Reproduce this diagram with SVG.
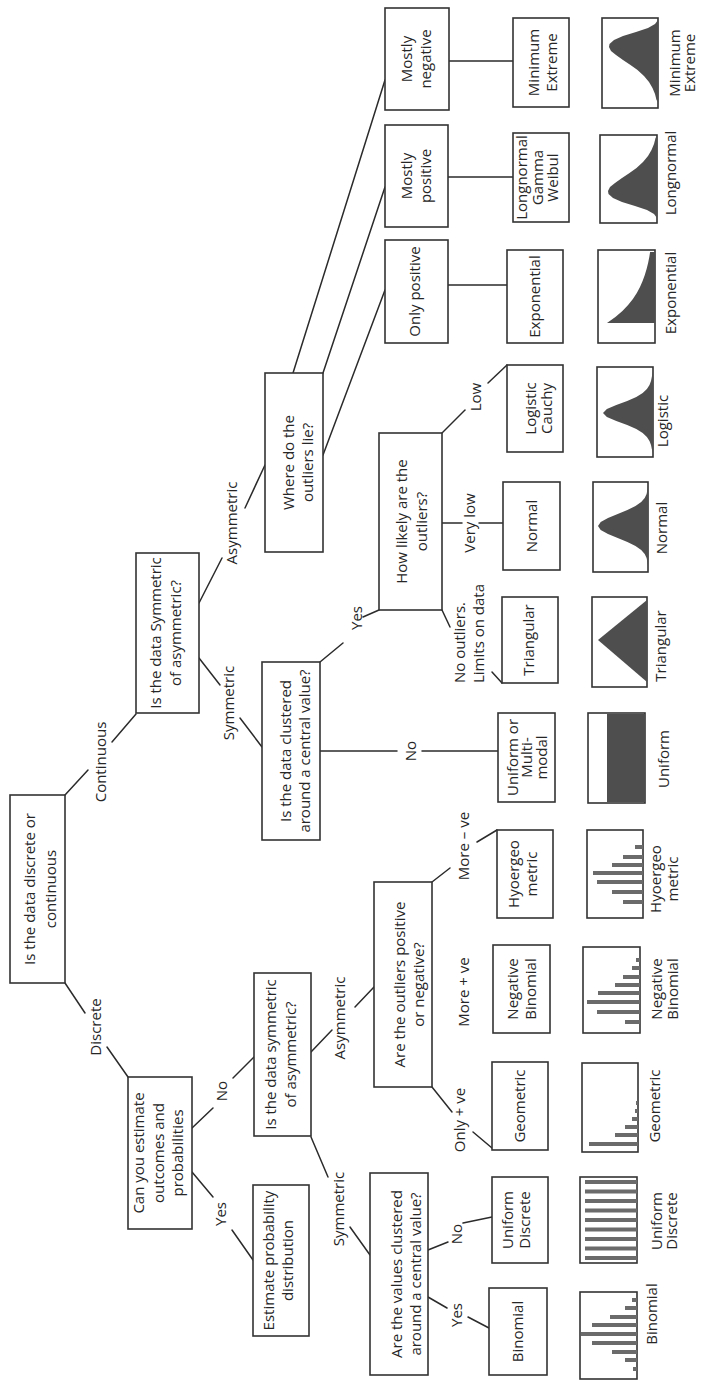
<svg xmlns="http://www.w3.org/2000/svg" width="701" height="1381" viewBox="0 0 701 1381">
  <style>
    .box{fill:#fff;stroke:#333;stroke-width:1.6}
    .frame{fill:#fff;stroke:#333;stroke-width:1.6}
    .edge{stroke:#2b2b2b;stroke-width:1.5;fill:none;stroke-linecap:round}
    .t{font-family:"Open Sans","DejaVu Sans",sans-serif;font-size:15px;fill:#262626;text-anchor:middle}
    .ts{text-anchor:start}
    .bar{fill:#6b6b6b}
    .fill{fill:#4e4e4e}
  </style>
  <rect width="701" height="1381" fill="#fff"/>
  <!-- The tree is laid out top-down, then turned a quarter-turn so it reads bottom-to-top -->
  <g transform="translate(0,1381) rotate(-90)">
    <g id="connectors">
      <line class="edge" x1="398" y1="65" x2="368" y2="85"/>
      <line class="edge" x1="334" y1="107" x2="304" y2="128"/>
      <line class="edge" x1="586" y1="65" x2="611" y2="88"/>
      <line class="edge" x1="639" y1="112" x2="667" y2="136"/>
      <line class="edge" x1="209" y1="192" x2="184" y2="213"/>
      <line class="edge" x1="151" y1="232" x2="121" y2="253"/>
      <line class="edge" x1="253" y1="192" x2="273" y2="213"/>
      <line class="edge" x1="303" y1="233" x2="324" y2="254"/>
      <line class="edge" x1="244" y1="311" x2="204" y2="328"/>
      <line class="edge" x1="154" y1="350" x2="126" y2="370"/>
      <line class="edge" x1="329" y1="311" x2="351" y2="332"/>
      <line class="edge" x1="374" y1="355" x2="394" y2="374"/>
      <line class="edge" x1="84" y1="428" x2="73" y2="447"/>
      <line class="edge" x1="64" y1="468" x2="53" y2="489"/>
      <line class="edge" x1="131" y1="428" x2="139" y2="448"/>
      <line class="edge" x1="158" y1="463" x2="164" y2="492"/>
      <line class="edge" x1="294" y1="432" x2="269" y2="452"/>
      <line class="edge" x1="249" y1="473" x2="233" y2="492"/>
      <line class="edge" x1="499" y1="432" x2="513" y2="450"/>
      <line class="edge" x1="539" y1="477" x2="551" y2="497"/>
      <line class="edge" x1="723" y1="199" x2="696" y2="220"/>
      <line class="edge" x1="663" y1="240" x2="634" y2="262"/>
      <line class="edge" x1="778" y1="199" x2="823" y2="222"/>
      <line class="edge" x1="873" y1="245" x2="916" y2="265"/>
      <line class="edge" x1="630" y1="320" x2="630" y2="397"/>
      <line class="edge" x1="630" y1="422" x2="630" y2="498"/>
      <line class="edge" x1="719" y1="320" x2="738" y2="343"/>
      <line class="edge" x1="764" y1="363" x2="771" y2="379"/>
      <line class="edge" x1="771" y1="442" x2="754" y2="450"/>
      <line class="edge" x1="709" y1="492" x2="698" y2="502"/>
      <line class="edge" x1="858" y1="442" x2="858" y2="462"/>
      <line class="edge" x1="858" y1="479" x2="858" y2="503"/>
      <line class="edge" x1="948" y1="442" x2="971" y2="465"/>
      <line class="edge" x1="998" y1="488" x2="1016" y2="507"/>
      <line class="edge" x1="926" y1="323" x2="1091" y2="385"/>
      <line class="edge" x1="1008" y1="323" x2="1194" y2="385"/>
      <line class="edge" x1="1008" y1="293" x2="1301" y2="385"/>
      <line class="edge" x1="1096" y1="448" x2="1096" y2="507"/>
      <line class="edge" x1="1204" y1="448" x2="1204" y2="513"/>
      <line class="edge" x1="1320" y1="449" x2="1320" y2="513"/>
      <g id="edge-labels">
        <text class="t" x="354" y="101">Discrete</text>
        <text class="t" x="619" y="106">Continuous</text>
        <text class="t" x="167" y="226">Yes</text>
        <text class="t" x="290" y="227">No</text>
        <text class="t" x="172" y="344">Symmetric</text>
        <text class="t" x="363" y="345">Asymmetric</text>
        <text class="t" x="66" y="462">Yes</text>
        <text class="t" x="147" y="462">No</text>
        <text class="t" x="261" y="465">Only + ve</text>
        <text class="t" x="389" y="469">More + ve</text>
        <text class="t" x="535" y="469">More – ve</text>
        <text class="t" x="678" y="234">Symmetric</text>
        <text class="t" x="858" y="237">Asymmetric</text>
        <text class="t" x="630" y="416">No</text>
        <text class="t" x="763" y="362">Yes</text>
        <text class="t ts" x="698" y="465">No outliers.</text>
        <text class="t ts" x="698" y="484">Limits on data</text>
        <text class="t" x="858" y="475">Very low</text>
        <text class="t" x="984" y="481">Low</text>
      </g>
    </g>

    <!-- decision nodes -->
    <g id="n-root"><rect class="box" x="398" y="10" width="188" height="55"/>
      <text class="t" x="492" y="35">Is the data discrete or</text><text class="t" x="492" y="56">continuous</text></g>
    <g id="n-estimate-q"><rect class="box" x="152" y="128" width="152" height="64"/>
      <text class="t" x="228" y="144">Can you estimate</text><text class="t" x="228" y="163.5">outcomes and</text><text class="t" x="228" y="183">probabilities</text></g>
    <g id="n-cont-sym"><rect class="box" x="668" y="136" width="160" height="63"/>
      <text class="t" x="748" y="161">Is the data Symmetric</text><text class="t" x="748" y="181">of asymmetric?</text></g>
    <g id="n-estimate-dist"><rect class="box" x="45" y="253" width="151" height="56"/>
      <text class="t" x="120.5" y="274">Estimate probability</text><text class="t" x="120.5" y="293">distribution</text></g>
    <g id="n-disc-sym"><rect class="box" x="245" y="254" width="163" height="57"/>
      <text class="t" x="326.5" y="276">Is the data symmetric</text><text class="t" x="326.5" y="296">of asymmetric?</text></g>
    <g id="n-cont-clustered"><rect class="box" x="541" y="262" width="178" height="58"/>
      <text class="t" x="630" y="291">Is the data clustered</text><text class="t" x="630" y="310">around a central value?</text></g>
    <g id="n-outliers-where"><rect class="box" x="829" y="265" width="179" height="58"/>
      <text class="t" x="918.5" y="294">Where do the</text><text class="t" x="918.5" y="313">outliers lie?</text></g>
    <g id="n-disc-clustered"><rect class="box" x="6" y="370" width="202" height="58"/>
      <text class="t" x="107" y="402">Are the values clustered</text><text class="t" x="107" y="421">around a central value?</text></g>
    <g id="n-outliers-sign"><rect class="box" x="294" y="374" width="205" height="58"/>
      <text class="t" x="396.5" y="405">Are the outliers positive</text><text class="t" x="396.5" y="424">or negative?</text></g>
    <g id="n-outliers-likely"><rect class="box" x="771" y="379" width="177" height="63"/>
      <text class="t" x="859.5" y="407">How likely are the</text><text class="t" x="859.5" y="427">outliers?</text></g>
    <g id="n-only-pos"><rect class="box" x="1038" y="385" width="103" height="63"/>
      <text class="t" x="1089.5" y="420">Only positive</text></g>
    <g id="n-mostly-pos"><rect class="box" x="1154" y="385" width="102" height="63"/>
      <text class="t" x="1205" y="412">Mostly</text><text class="t" x="1205" y="431">positive</text></g>
    <g id="n-mostly-neg"><rect class="box" x="1271" y="385" width="102" height="64"/>
      <text class="t" x="1322" y="412">Mostly</text><text class="t" x="1322" y="431">negative</text></g>

    <!-- distribution nodes -->
    <g id="n-binomial"><rect class="box" x="6" y="489" width="87" height="58"/>
      <text class="t" x="49.5" y="523">Binomial</text></g>
    <g id="n-uniform-discrete"><rect class="box" x="118" y="492" width="86" height="56"/>
      <text class="t" x="161" y="513">Uniform</text><text class="t" x="161" y="530">Discrete</text></g>
    <g id="n-geometric"><rect class="box" x="231" y="492" width="88" height="56"/>
      <text class="t" x="275" y="525">Geometric</text></g>
    <g id="n-neg-binomial"><rect class="box" x="348" y="493" width="88" height="57"/>
      <text class="t" x="392" y="518">Negative</text><text class="t" x="392" y="536">Binomial</text></g>
    <g id="n-hypergeometric"><rect class="box" x="463" y="497" width="88" height="56"/>
      <text class="t" x="507" y="519">Hyoergeo</text><text class="t" x="507" y="537">metric</text></g>
    <g id="n-uniform-multi"><rect class="box" x="579" y="498" width="89" height="57"/>
      <text class="t" x="623.5" y="518">Uniform or</text><text class="t" x="623.5" y="532">Multi-</text><text class="t" x="623.5" y="547">modal</text></g>
    <g id="n-triangular"><rect class="box" x="698" y="502" width="86" height="56"/>
      <text class="t" x="741" y="534">Triangular</text></g>
    <g id="n-normal"><rect class="box" x="811" y="503" width="88" height="57"/>
      <text class="t" x="855" y="537">Normal</text></g>
    <g id="n-logistic"><rect class="box" x="929" y="507" width="87" height="56"/>
      <text class="t" x="972.5" y="536">Logistic</text><text class="t" x="972.5" y="552">Cauchy</text></g>
    <g id="n-exponential"><rect class="box" x="1038" y="507" width="93" height="56"/>
      <text class="t" x="1084.5" y="540">Exponential</text></g>
    <g id="n-lognormal"><rect class="box" x="1159" y="513" width="89" height="56"/>
      <text class="t" x="1203.5" y="527">Longnormal</text><text class="t" x="1203.5" y="543">Gamma</text><text class="t" x="1203.5" y="558">Weibul</text></g>
    <g id="n-min-extreme"><rect class="box" x="1274" y="513" width="89" height="56"/>
      <text class="t" x="1318.5" y="539">Minimum</text><text class="t" x="1318.5" y="557">Extreme</text></g>

    <!-- shape sketches with captions -->
    <g id="p-binomial"><rect class="frame" x="2" y="580" width="87" height="57"/>
      <rect class="bar" x="10" y="633" width="4" height="4"/><rect class="bar" x="19" y="625" width="4" height="12"/>
      <rect class="bar" x="27" y="612" width="4" height="25"/><rect class="bar" x="36" y="592" width="4" height="45"/>
      <rect class="bar" x="45" y="581" width="4" height="56"/><rect class="bar" x="54" y="592" width="4" height="45"/>
      <rect class="bar" x="62" y="610" width="4" height="27"/><rect class="bar" x="71" y="625" width="4" height="12"/>
      <rect class="bar" x="79" y="632" width="4" height="5"/>
      <text class="t" x="67" y="657">Binomial</text></g>
    <g id="p-uniform-discrete"><rect class="frame" x="118" y="580" width="86" height="57"/>
      <rect class="bar" x="121" y="585" width="4" height="52"/><rect class="bar" x="130.5" y="585" width="4" height="52"/>
      <rect class="bar" x="140" y="585" width="4" height="52"/><rect class="bar" x="149.5" y="585" width="4" height="52"/>
      <rect class="bar" x="159" y="585" width="4" height="52"/><rect class="bar" x="168.5" y="585" width="4" height="52"/>
      <rect class="bar" x="178" y="585" width="4" height="52"/><rect class="bar" x="187.5" y="585" width="4" height="52"/>
      <rect class="bar" x="197" y="585" width="4" height="52"/>
      <text class="t" x="160" y="662">Uniform</text><text class="t" x="160" y="677">Discrete</text></g>
    <g id="p-geometric"><rect class="frame" x="229" y="582" width="89" height="56"/>
      <rect class="bar" x="235" y="589" width="4" height="49"/><rect class="bar" x="244" y="615" width="4" height="23"/>
      <rect class="bar" x="252" y="625" width="4" height="13"/><rect class="bar" x="260" y="632" width="4" height="6"/>
      <rect class="bar" x="268" y="635" width="4" height="3"/><rect class="bar" x="276" y="636" width="4" height="2"/>
      <text class="t" x="275" y="660">Geometric</text></g>
    <g id="p-neg-binomial"><rect class="frame" x="348" y="583" width="86" height="57"/>
      <rect class="bar" x="357" y="625" width="4" height="15"/><rect class="bar" x="367" y="597" width="4" height="43"/>
      <rect class="bar" x="377" y="587" width="4" height="53"/><rect class="bar" x="386" y="598" width="4" height="42"/>
      <rect class="bar" x="394" y="615" width="4" height="25"/><rect class="bar" x="402" y="623" width="4" height="17"/>
      <rect class="bar" x="411" y="632" width="4" height="8"/><rect class="bar" x="419" y="636" width="4" height="4"/>
      <text class="t" x="392" y="662">Negative</text><text class="t" x="392" y="678">Binomial</text></g>
    <g id="p-hypergeometric"><rect class="frame" x="463" y="587" width="88" height="56"/>
      <rect class="bar" x="477" y="623" width="4" height="20"/><rect class="bar" x="487" y="612" width="4" height="31"/>
      <rect class="bar" x="497" y="597" width="4" height="46"/><rect class="bar" x="506" y="593" width="4" height="50"/>
      <rect class="bar" x="514" y="612" width="4" height="31"/><rect class="bar" x="522" y="623" width="4" height="20"/>
      <rect class="bar" x="532" y="635" width="4" height="8"/>
      <text class="t" x="502" y="661">Hyoergeo</text><text class="t" x="502" y="678">metric</text></g>
    <g id="p-uniform"><rect class="frame" x="578" y="588" width="90" height="57"/>
      <rect class="fill" x="579" y="607" width="88" height="38"/>
      <text class="t" x="622" y="669">Uniform</text></g>
    <g id="p-triangular"><rect class="frame" x="694" y="592" width="90" height="55"/>
      <polygon class="fill" points="699,647 741,598 781,647"/>
      <text class="t" x="735" y="666">Triangular</text></g>
    <g id="p-normal"><rect class="frame" x="809" y="593" width="90" height="55"/>
      <path class="fill" d="M815,648 L819,647.4 L823,646.6 L827,644.7 L831,641.2 L835,635.5 L839,627.4 L843,617.7 L847,608 L851,600.7 L855,598 L859,600.7 L863,608 L867,617.7 L871,627.4 L875,635.5 L879,641.2 L883,644.7 L887,646.6 L891,647.4 L895,648 Z"/>
      <text class="t" x="853" y="667">Normal</text></g>
    <g id="p-logistic"><rect class="frame" x="924" y="597" width="90" height="56"/>
      <path class="fill" d="M928,653 L932,651.8 L936,651 L940,649.5 L944,646.9 L948,642.7 L952,636.3 L956,627.2 L960,616.3 L964,606.9 L968,603 L972,606.9 L976,616.3 L980,627.2 L984,636.3 L988,642.7 L992,646.9 L996,649.5 L1000,651 L1004,651.8 L1010,653 Z"/>
      <text class="t" x="960" y="668">Logistic</text></g>
    <g id="p-exponential"><rect class="frame" x="1038" y="598" width="93" height="57"/>
      <path class="fill" d="M1058,655 L1058,607 L1064,615.4 L1070,622.4 L1076,628.1 L1082,632.9 L1088,636.8 L1094,640 L1100,642.6 L1106,644.8 L1112,646.6 L1118,648.1 L1124,649.3 L1129,650.1 L1129,655 Z"/>
      <text class="t" x="1088" y="676">Exponential</text></g>
    <g id="p-lognormal"><rect class="frame" x="1158" y="600" width="88" height="57"/>
      <path class="fill" d="M1163,657 L1167,654 L1171,647 L1175,635 L1179,622 L1183,613 L1187,608.5 L1190,608 L1194,610 L1198,615 L1203,622 L1208,629.5 L1213,636.5 L1219,643 L1225,648 L1231,651.5 L1237,654 L1243,655.5 L1245,657 Z"/>
      <text class="t" x="1208" y="676">Longnormal</text></g>
    <g id="p-min-extreme"><rect class="frame" x="1273" y="602" width="90" height="56"/>
      <path class="fill" d="M1361,658 L1357,655 L1353,648 L1349,636 L1345,623 L1341,614 L1337,609.5 L1334,609 L1330,611 L1326,616 L1321,623 L1316,630.5 L1311,637.5 L1305,644 L1299,649 L1293,652.5 L1287,655 L1281,656.5 L1279,658 Z"/>
      <text class="t" x="1318" y="680">Minimum</text><text class="t" x="1318" y="695">Extreme</text></g>
  </g>
</svg>
